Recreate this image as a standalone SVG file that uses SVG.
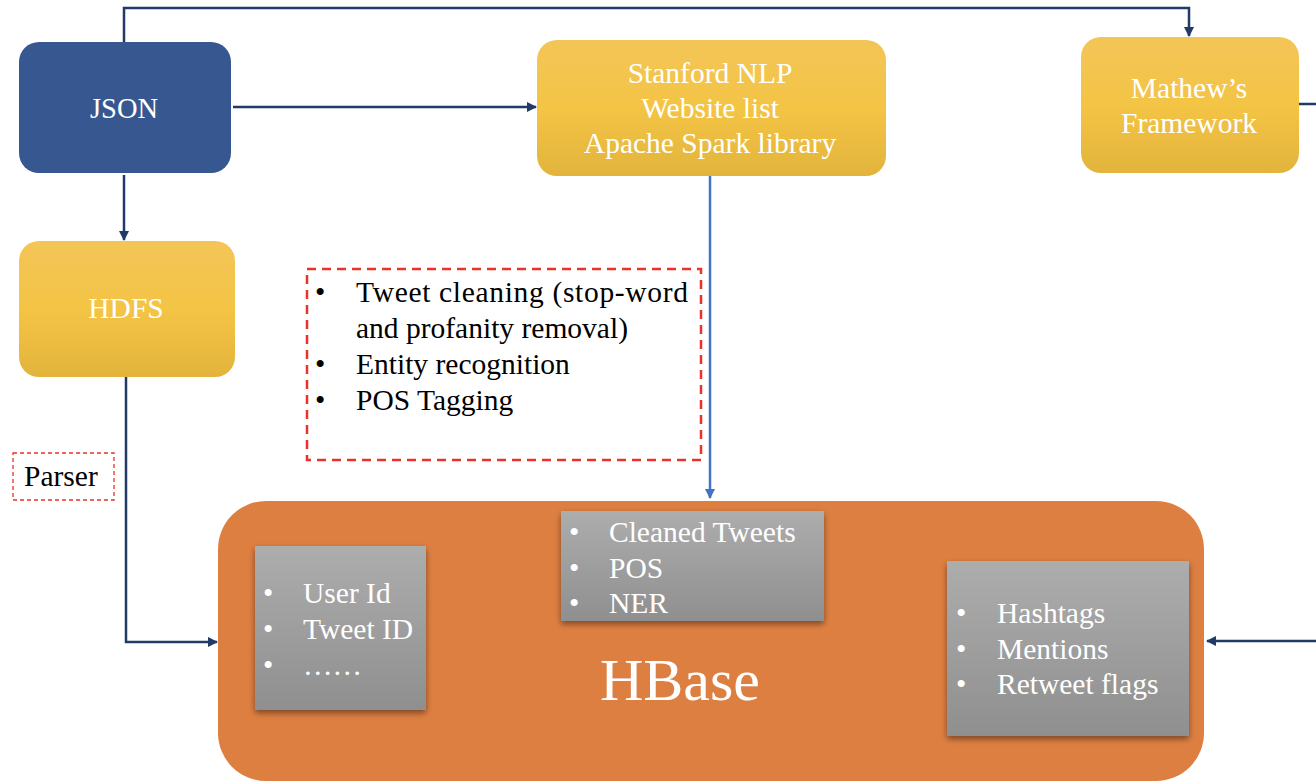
<svg xmlns="http://www.w3.org/2000/svg" width="1316" height="781" viewBox="0 0 1316 781">
<style>
.t{font-family:"Liberation Serif","Times New Roman",serif;}
.w{fill:#ffffff;}
.k{fill:#000000;}
.c{stroke:#213a66;stroke-width:2.5;fill:none;}
</style>
<defs>
<linearGradient id="yg" x1="0" y1="0" x2="0" y2="1">
<stop offset="0" stop-color="#f3c557"/>
<stop offset="0.5" stop-color="#f4c445"/>
<stop offset="1" stop-color="#e2b43c"/>
</linearGradient>
<linearGradient id="gg" x1="0" y1="0" x2="0" y2="1">
<stop offset="0" stop-color="#adadad"/>
<stop offset="1" stop-color="#8f8f8f"/>
</linearGradient>
<filter id="sh" x="-10%" y="-10%" width="125%" height="130%">
<feDropShadow dx="0" dy="3" stdDeviation="3" flood-color="#000" flood-opacity="0.45"/>
</filter>
<marker id="ad" viewBox="0 0 10 10" refX="9" refY="5" markerWidth="4" markerHeight="4" orient="auto" markerUnits="strokeWidth">
<path d="M0,0 L10,5 L0,10 z" fill="#213a66"/>
</marker>
<marker id="ab" viewBox="0 0 10 10" refX="9" refY="5" markerWidth="4" markerHeight="4" orient="auto" markerUnits="strokeWidth">
<path d="M0,0 L10,5 L0,10 z" fill="#4472c4"/>
</marker>
</defs>

<g id="connectors">
<path class="c" d="M124,42 V8 H1189 V36" marker-end="url(#ad)"/>
<path class="c" d="M233,107 H536" marker-end="url(#ad)"/>
<path class="c" d="M124,175 V240" marker-end="url(#ad)"/>
<path class="c" d="M126,377 V642 H217" marker-end="url(#ad)"/>
<path class="c" d="M1299,104 H1318"/>
<path class="c" d="M1318,641 H1207" marker-end="url(#ad)"/>
<path d="M710,176 V498" stroke="#4472c4" stroke-width="2.5" fill="none" marker-end="url(#ab)"/>
</g>

<g id="json">
<rect x="19" y="42" width="212" height="131" rx="20" fill="#375791"/>
<text class="t w" x="124" y="118" font-size="28.5" text-anchor="middle">JSON</text>
</g>

<g id="stanford">
<rect x="537" y="40" width="349" height="136" rx="20" fill="url(#yg)"/>
<text class="t w" font-size="29.5" text-anchor="middle"><tspan x="710" y="83">Stanford NLP</tspan><tspan x="710" y="118">Website list</tspan><tspan x="710" y="153">Apache Spark library</tspan></text>
</g>

<g id="mathew">
<rect x="1081" y="37" width="218" height="136" rx="20" fill="url(#yg)"/>
<text class="t w" font-size="29.5" text-anchor="middle"><tspan x="1189" y="98">Mathew’s</tspan><tspan x="1189" y="133">Framework</tspan></text>
</g>

<g id="hdfs">
<rect x="19" y="241" width="216" height="136" rx="20" fill="url(#yg)"/>
<text class="t w" x="126" y="318" font-size="29.5" text-anchor="middle">HDFS</text>
</g>

<g id="parser">
<rect x="13" y="453" width="101" height="47" fill="#fff" stroke="#e8322a" stroke-width="1.3" stroke-dasharray="4,3"/>
<text class="t k" x="24" y="486" font-size="29.5">Parser</text>
</g>

<g id="tasks">
<rect x="307" y="269" width="394" height="191" fill="none" stroke="#e8322a" stroke-width="2.5" stroke-dasharray="9,6"/>
<g class="t k" font-size="29.5">
<text x="315" y="302">•</text><text x="356" y="302" textLength="332" lengthAdjust="spacing">Tweet cleaning (stop-word</text>
<text x="356" y="338">and profanity removal)</text>
<text x="315" y="374">•</text><text x="356" y="374">Entity recognition</text>
<text x="315" y="410">•</text><text x="356" y="410">POS Tagging</text>
</g>
</g>

<g id="hbase">
<rect x="218" y="501" width="986" height="280" rx="48" fill="#de7f42"/>
<text class="t w" x="680" y="700" font-size="60" text-anchor="middle">HBase</text>
</g>

<g id="cols-left">
<rect x="255" y="546" width="171" height="164" fill="url(#gg)" filter="url(#sh)"/>
<g class="t w" font-size="29.5">
<text x="263" y="603">•</text><text x="303" y="603">User Id</text>
<text x="263" y="639">•</text><text x="303" y="639">Tweet ID</text>
<text x="263" y="675">•</text><text x="303" y="675">……</text>
</g>
</g>

<g id="cols-mid">
<rect x="561" y="511" width="263" height="110" fill="url(#gg)" filter="url(#sh)"/>
<g class="t w" font-size="29.5">
<text x="569" y="542">•</text><text x="609" y="542">Cleaned Tweets</text>
<text x="569" y="578">•</text><text x="609" y="578">POS</text>
<text x="569" y="613">•</text><text x="609" y="613">NER</text>
</g>
</g>

<g id="cols-right">
<rect x="947" y="561" width="242" height="175" fill="url(#gg)" filter="url(#sh)"/>
<g class="t w" font-size="29.5">
<text x="956" y="623">•</text><text x="997" y="623">Hashtags</text>
<text x="956" y="659">•</text><text x="997" y="659">Mentions</text>
<text x="956" y="694">•</text><text x="997" y="694">Retweet flags</text>
</g>
</g>
</svg>
